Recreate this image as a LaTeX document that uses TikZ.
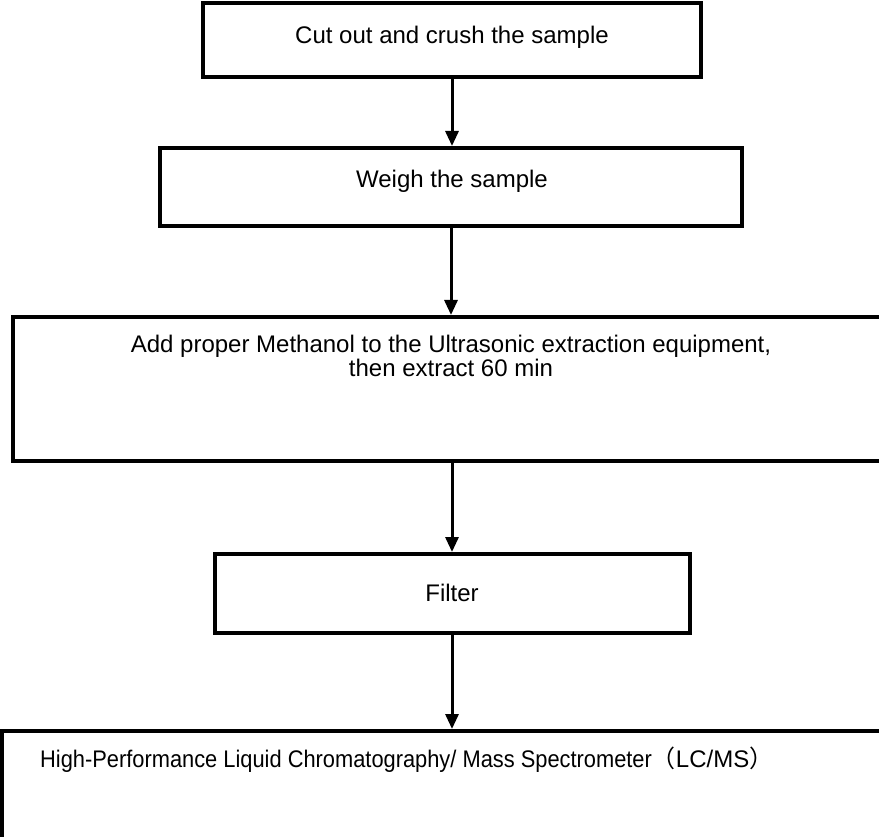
\documentclass[tikz,border=0pt]{standalone}
\usepackage{fontspec}
\setmainfont{Liberation Sans}
\newfontfamily\condfont[FakeStretch=0.91]{Liberation Sans}
\newfontfamily\cjkfont{Noto Sans CJK SC}
\usetikzlibrary{arrows.meta}
\tikzset{
  stepbox/.style={draw=black, line width=4pt, rectangle, inner sep=0pt},
  lbl/.style={inner sep=0pt, font=\fontsize{24}{22}\selectfont, align=center},
  flow/.style={line width=3pt, -{Triangle[width=13pt,length=15pt]}}
}
\begin{document}
\begin{tikzpicture}[x=1pt,y=-1pt]
\useasboundingbox (0,0) rectangle (879,837);
\clip (0,0) rectangle (879,837);
% boxes
\node[stepbox, minimum width=498pt, minimum height=74pt] (b1) at (452,40) {};
\node[stepbox, minimum width=582pt, minimum height=78pt] (b2) at (451,187) {};
\node[stepbox, minimum width=874pt, minimum height=144pt] (b3) at (450,389) {};
\node[stepbox, minimum width=475pt, minimum height=79pt] (b4) at (452,593.5) {};
\node[stepbox, minimum width=884pt, minimum height=114pt] (b5) at (444,788) {};
% texts
\node[lbl] (t1) at (452,37) {Cut out and crush the sample};
\node[lbl] (t2) at (452,181) {Weigh the sample};
\node[lbl] (t3) at (451,356) {Add proper Methanol to the Ultrasonic extraction equipment,\\then extract 60 min};
\node[lbl] (t4) at (452,593) {Filter};
\node[lbl, anchor=west] (t5) at (40,760) {{\condfont High-Performance Liquid Chromatography/ Mass Spectrometer}{\cjkfont （}LC/MS{\cjkfont ）}};
% arrows
\draw[flow] (b1.south) -- (b1.south |- b2.north);
\draw[flow] (b2.south) -- (b2.south |- b3.north);
\draw[flow] (b4.north |- b3.south) -- (b4.north);
\draw[flow] (b4.south) -- (b4.south |- b5.north);
\end{tikzpicture}
\end{document}
